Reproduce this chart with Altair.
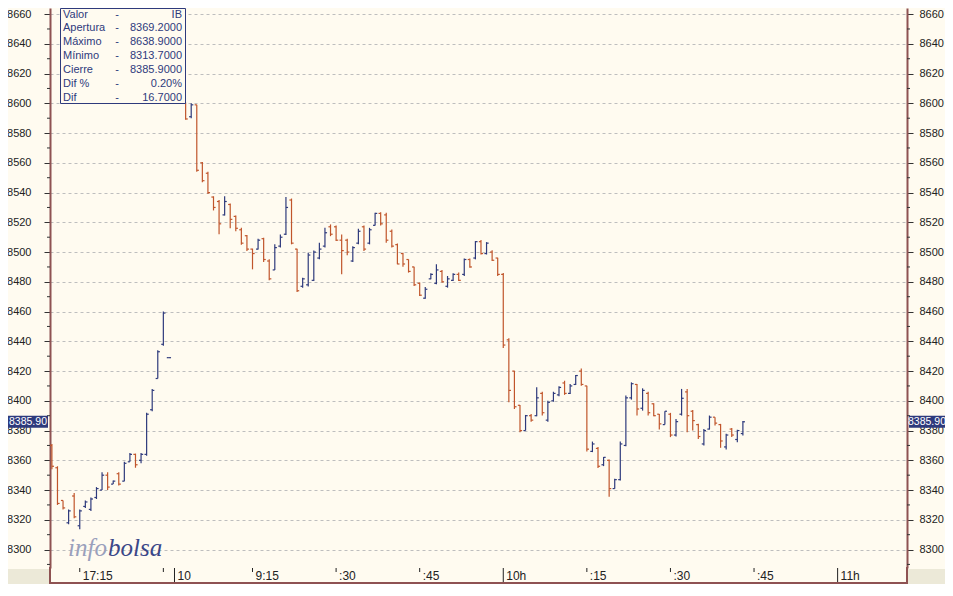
import altair as alt
import pandas as pd

# ---------------- data ----------------
bar_k = list(range(125))
opens = [8370, 8355, 8333, 8318, 8336, 8316, 8329, 8327, 8335, 8340,
         8350, 8344, 8351, 8346, 8359, 8364, 8360, 8364, 8394, 8415,
         8438, 8429, 8620, 8610, 8600, 8591, 8599, 8560, 8553, 8537,
         8534, 8525, 8532, 8524, 8515, 8511, 8502, 8502, 8509, 8494,
         8488, 8504, 8512, 8535, 8502, 8477, 8478, 8481, 8496, 8504,
         8517, 8517, 8508, 8508, 8494, 8506, 8517, 8506, 8518, 8526,
         8525, 8514, 8505, 8499, 8495, 8490, 8479, 8469, 8482, 8479,
         8487, 8477, 8481, 8485, 8485, 8495, 8496, 8507, 8499, 8500,
         8496, 8485, 8441, 8420, 8397, 8380, 8390, 8390, 8405, 8387,
         8400, 8404, 8412, 8405, 8411, 8420, 8410, 8366, 8368, 8357,
         8360, 8341, 8347, 8370, 8402, 8411, 8395, 8405, 8398, 8391,
         8384, 8391, 8377, 8391, 8406, 8393, 8384, 8371, 8381, 8389,
         8384, 8369, 8381, 8374, 8378]
highs = [8371, 8356, 8333, 8327, 8338, 8327, 8333, 8335, 8342, 8352,
         8352, 8346.5, 8352, 8359, 8365, 8364.5, 8365, 8392, 8408, 8434,
         8460, 8429, 8638.9, 8615, 8600.5, 8600, 8599, 8560.5, 8554, 8537.5,
         8535, 8537.5, 8532.6, 8524.6, 8516.3, 8511.4, 8502.3, 8509, 8509.6, 8495.1,
         8505.2, 8511.9, 8537.1, 8536, 8502.3, 8482.8, 8499.6, 8501.1, 8506.3, 8516.3,
         8518.6, 8517.9, 8511.9, 8509, 8504, 8515.7, 8517.9, 8516.3, 8526.4, 8526.8,
         8526.4, 8515.2, 8505.8, 8499.6, 8495.1, 8490.2, 8479.5, 8476.5, 8485.7, 8491.8,
         8487.9, 8483.9, 8485.7, 8486.2, 8495.6, 8495.6, 8507.4, 8508.1, 8506.7, 8501.3,
         8496.2, 8486, 8442, 8420.2, 8397.2, 8390.5, 8391.2, 8409.1, 8406.1, 8400.1,
         8406.1, 8409.8, 8413.5, 8411.3, 8417.3, 8421.8, 8410.2, 8372.6, 8368.9, 8362.2,
         8360.6, 8347.6, 8372.6, 8403.5, 8412.4, 8411.3, 8408.4, 8406.1, 8398.4, 8391.2,
         8393, 8391.9, 8387.8, 8408, 8408, 8393.9, 8384.5, 8381.1, 8390.1, 8389,
         8384.5, 8377.8, 8381.8, 8380.5, 8386.5]
lows = [8354, 8330, 8327, 8317, 8321, 8313.7, 8328, 8326, 8334, 8340,
        8340, 8344, 8343, 8346, 8359, 8355, 8358, 8363, 8393, 8415,
        8437, 8429, 8605, 8601, 8589, 8590, 8554, 8547, 8539, 8528,
        8512, 8524.6, 8516, 8514, 8505, 8500.7, 8488.4, 8501.8, 8493.3, 8481,
        8487.9, 8503, 8511.4, 8505.2, 8473.2, 8476.1, 8476.8, 8480.6, 8495.1, 8503,
        8510.7, 8507.4, 8485.1, 8497.8, 8493.3, 8505.2, 8500.7, 8505.2, 8517.9, 8517.9,
        8506.3, 8503, 8491.8, 8490.2, 8486.2, 8477.2, 8470.5, 8468.7, 8481.7, 8478.3,
        8479.5, 8476.1, 8480.6, 8480.6, 8483.9, 8489.5, 8495.1, 8498.4, 8498.4, 8494,
        8483.9, 8435.5, 8399, 8394.5, 8378.9, 8380, 8386, 8389.6, 8390.1, 8386,
        8399.4, 8403.1, 8404, 8404.6, 8410.6, 8410.2, 8366, 8365.5, 8354.8, 8356.1,
        8335.5, 8340.9, 8346.5, 8369.5, 8400.8, 8390.1, 8393.4, 8390.1, 8389.6, 8380.7,
        8384, 8375.6, 8376, 8390.1, 8378.9, 8380, 8374.4, 8369.9, 8380.7, 8383.4,
        8368.4, 8367.3, 8375.6, 8372.2, 8376.6]
closes = [8356, 8331, 8328, 8326, 8322, 8326, 8332, 8334, 8341, 8350,
          8342, 8346, 8344, 8358, 8364, 8357, 8364, 8391, 8407, 8433,
          8459, 8429, 8610, 8603, 8589.5, 8599, 8555, 8548, 8540, 8530,
          8519, 8534, 8522, 8516, 8506, 8502, 8499, 8508, 8495, 8482,
          8503, 8510, 8530, 8506, 8474, 8482, 8498, 8500, 8502, 8513,
          8512, 8508, 8501, 8500, 8503, 8514, 8502, 8515, 8526, 8519,
          8508, 8504, 8492, 8492, 8487, 8478, 8471, 8475, 8485, 8488,
          8480, 8482, 8485, 8481, 8495, 8490, 8507, 8499, 8506, 8494.5,
          8485, 8437.5, 8407, 8396, 8380, 8390, 8387, 8402, 8392, 8399,
          8405, 8409, 8405, 8410, 8417, 8411, 8367.5, 8371, 8356, 8362,
          8341, 8347, 8371, 8402, 8411.5, 8394.5, 8407, 8392, 8390, 8384.5,
          8393, 8377, 8386, 8401.7, 8390, 8386.7, 8376, 8380, 8389, 8385,
          8373, 8377, 8377, 8380, 8385.9]

y_ticks = list(range(8300, 8661, 20))
y_minor = list(range(8290, 8661, 20))
x_tick_pos = [5, 22, 36, 51, 66, 81, 96, 111, 126, 141]
x_tick_labels = ["17:15", "10", "9:15", ":30", ":45", "10h", ":15", ":30", ":45", "11h"]
x_short_ticks = [5, 20, 36, 51, 66, 96, 111, 126]
x_long_ticks = [22, 81, 141]

info_labels = ["Valor", "Apertura", "Máximo", "Mínimo", "Cierre", "Dif %", "Dif"]
info_values = ["IB", "8369.2000", "8638.9000", "8313.7000", "8385.9000", "0.20%", "16.7000"]
last_price = [8385.90]
last_price_text = "8385.90"

# ---------------- style ----------------
W, H = 857, 560
XDOM = [-0.34, 153.45]
YDOM = [8287.6, 8664.1]
RED = "#C0552B"
BLUE = "#2E3A7C"
BROWN = "#8E5252"
GRID = "#BEBEBE"
BG = "#FFFBF0"
GRAYBG = "#ECE9D8"
FONT = "Liberation Sans"
TL = 0.38  # half length of open/close ticks in bar units

df = pd.DataFrame({"k": bar_k, "open": opens, "high": highs, "low": lows, "close": closes})
df["dir"] = ["up" if c >= o else "down" for o, c in zip(opens, closes)]

xs = alt.Scale(domain=XDOM, nice=False, zero=False)
ys = alt.Scale(domain=YDOM, nice=False, zero=False)
col = alt.Color("dir:N", scale=alt.Scale(domain=["up", "down"], range=[BLUE, RED]), legend=None)

x_axis = alt.Axis(orient="bottom", values=x_tick_pos, labels=False, ticks=False,
                  domainColor=BROWN, domainWidth=2, grid=True, gridColor=GRID,
                  gridDash=[3, 3], gridWidth=1, title=None)
left_axis = alt.Axis(orient="left", values=y_ticks, format="d", tickSize=6, tickColor="#333333",
                     labelPadding=13, labelFont=FONT, labelFontSize=11, labelColor="#222222",
                     domainColor=BROWN, domainWidth=2, grid=True, gridColor=GRID,
                     gridDash=[3, 3], gridWidth=1, title=None, labelOverlap=False)
right_axis = alt.Axis(orient="right", values=y_ticks, format="d", tickSize=6, tickColor="#333333",
                      labelPadding=6, labelFont=FONT, labelFontSize=11, labelColor="#222222",
                      domainColor=BROWN, domainWidth=2, grid=False, title=None, labelOverlap=False)

one = pd.DataFrame({"a": [0]})

bars = alt.Chart(df).mark_rule(strokeWidth=1.2).encode(
    x=alt.X("k:Q", scale=xs, axis=x_axis),
    y=alt.Y("low:Q", scale=ys, axis=left_axis),
    y2="high:Q",
    color=col,
)
open_ticks = alt.Chart(df).transform_calculate(ko=f"datum.k - {TL}").mark_rule(strokeWidth=1.2).encode(
    x=alt.X("ko:Q", scale=xs, axis=None), x2="k:Q",
    y=alt.Y("open:Q", scale=ys, axis=None), color=col,
)
close_ticks = alt.Chart(df).transform_calculate(kc=f"datum.k + {TL}").mark_rule(strokeWidth=1.2).encode(
    x=alt.X("k:Q", scale=xs, axis=None), x2="kc:Q",
    y=alt.Y("close:Q", scale=ys, axis=None), color=col,
)
right_layer = alt.Chart(df).mark_rule(opacity=0).encode(
    y=alt.Y("low:Q", scale=ys, axis=right_axis),
)

minor_df = pd.DataFrame({"v": y_minor})
minor_left = alt.Chart(minor_df).mark_rule(color="#333333", strokeWidth=1).encode(
    y=alt.Y("v:Q", scale=ys, axis=None), x=alt.value(-3), x2=alt.value(0))
minor_right = alt.Chart(minor_df).mark_rule(color="#333333", strokeWidth=1).encode(
    y=alt.Y("v:Q", scale=ys, axis=None), x=alt.value(857), x2=alt.value(860))

# time strip: gray corners, frame, ticks and labels
gray_left = alt.Chart(one).mark_rect(color=GRAYBG).encode(
    x=alt.value(-42), x2=alt.value(-1), y=alt.value(561), y2=alt.value(576))
gray_right = alt.Chart(one).mark_rect(color=GRAYBG).encode(
    x=alt.value(858), x2=alt.value(895), y=alt.value(561), y2=alt.value(576))
strip_bottom = alt.Chart(one).mark_rule(color=BROWN, strokeWidth=2).encode(
    x=alt.value(-1), x2=alt.value(858), y=alt.value(575))
strip_left = alt.Chart(one).mark_rule(color=BROWN, strokeWidth=2).encode(
    x=alt.value(0), y=alt.value(559), y2=alt.value(576))
strip_right = alt.Chart(one).mark_rule(color=BROWN, strokeWidth=2).encode(
    x=alt.value(857), y=alt.value(559), y2=alt.value(576))

short_df = pd.DataFrame({"k": x_short_ticks})
long_df = pd.DataFrame({"k": x_long_ticks})
xt_short = alt.Chart(short_df).mark_rule(color="#222222", strokeWidth=1).encode(
    x=alt.X("k:Q", scale=xs, axis=None), y=alt.value(560), y2=alt.value(564))
xt_long = alt.Chart(long_df).mark_rule(color="#222222", strokeWidth=1).encode(
    x=alt.X("k:Q", scale=xs, axis=None), y=alt.value(560), y2=alt.value(575))
xlab_df = pd.DataFrame({"k": x_tick_pos, "lab": x_tick_labels})
x_labels = alt.Chart(xlab_df).mark_text(font=FONT, fontSize=12, color="#222222", align="left",
                                        baseline="middle", dx=3).encode(
    x=alt.X("k:Q", scale=xs, axis=None), y=alt.value(568), text="lab:N")

# watermark
wm_info = alt.Chart(one).mark_text(text="info", font="Liberation Serif", fontStyle="italic",
                                   fontSize=25, color="#9AA0BC", align="left",
                                   baseline="alphabetic").encode(x=alt.value(18), y=alt.value(548))
wm_bolsa = alt.Chart(one).mark_text(text="bolsa", font="Liberation Serif", fontStyle="italic",
                                    fontSize=25, color="#3B4788", align="left",
                                    baseline="alphabetic").encode(x=alt.value(58), y=alt.value(548))

# info box
box = alt.Chart(one).mark_rect(fill=BG, stroke=BLUE, strokeWidth=1).encode(
    x=alt.value(10.5), x2=alt.value(135.5), y=alt.value(0.5), y2=alt.value(95.5))
box_lab = alt.Chart(one).mark_text(font=FONT, fontSize=11, color=BLUE, align="left",
                                   baseline="alphabetic", lineHeight=13.9).encode(
    x=alt.value(13), y=alt.value(9.5), text=alt.value(info_labels))
box_dash = alt.Chart(one).mark_text(font=FONT, fontSize=11, color=BLUE, align="center",
                                    baseline="alphabetic", lineHeight=13.9).encode(
    x=alt.value(67), y=alt.value(9.5), text=alt.value(["-"] * len(info_labels)))
box_val = alt.Chart(one).mark_text(font=FONT, fontSize=11, color=BLUE, align="right",
                                   baseline="alphabetic", lineHeight=13.9).encode(
    x=alt.value(132), y=alt.value(9.5), text=alt.value(info_values))

# last price markers
price_df = pd.DataFrame({"v": last_price})
pl_rect = alt.Chart(price_df).transform_calculate(lo="datum.v - 4", hi="datum.v + 4").mark_rect(
    color=BLUE).encode(x=alt.value(-42), x2=alt.value(-2),
                       y=alt.Y("lo:Q", scale=ys, axis=None), y2="hi:Q")
pr_rect = alt.Chart(price_df).transform_calculate(lo="datum.v - 4", hi="datum.v + 4").mark_rect(
    color=BLUE).encode(x=alt.value(859), x2=alt.value(895),
                       y=alt.Y("lo:Q", scale=ys, axis=None), y2="hi:Q")
pl_text = alt.Chart(price_df).mark_text(text=last_price_text, font=FONT, fontSize=10.5,
                                        color="white", align="center", baseline="middle").encode(
    x=alt.value(-22), y=alt.Y("v:Q", scale=ys, axis=None))
pr_text = alt.Chart(price_df).mark_text(text=last_price_text, font=FONT, fontSize=10.5,
                                        color="white", align="center", baseline="middle").encode(
    x=alt.value(877), y=alt.Y("v:Q", scale=ys, axis=None))

chart = alt.layer(
    bars, right_layer, wm_info, wm_bolsa, open_ticks, close_ticks,
    minor_left, minor_right, gray_left, gray_right,
    xt_short, xt_long, x_labels, strip_bottom, strip_left, strip_right,
    box, box_lab, box_dash, box_val,
    pl_rect, pr_rect, pl_text, pr_text,
).resolve_axis(y="independent").properties(
    width=W, height=H,
    padding={"left": 42, "top": 0, "right": 38, "bottom": 16},
    autosize=alt.AutoSizeParams(type="none"),
    background=BG,
).configure_view(stroke=None, fill=BG)

chart.save("out.html", embed_options={"renderer": "svg", "actions": False})
